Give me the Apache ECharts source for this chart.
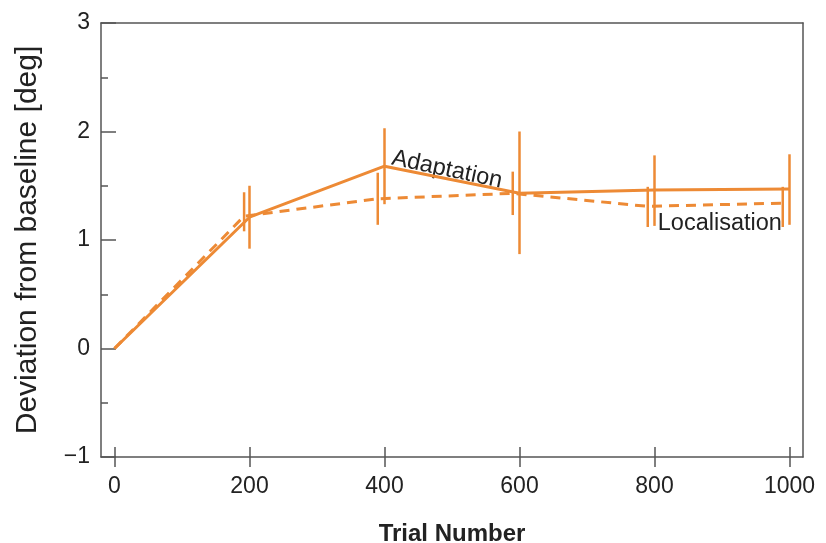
<!DOCTYPE html>
<html>
<head>
<meta charset="utf-8">
<script src="https://cdn.jsdelivr.net/npm/echarts@6/dist/echarts.min.js"></script>
<style>html,body{margin:0;padding:0;background:#fff;}#c{width:826px;height:543px;}</style>
</head>
<body>
<div id="c"></div>
<script>
// Data
var xTicks = [0, 200, 400, 600, 800, 1000];
var adaptX = [0, 200, 400, 600, 800, 1000];
var adaptY = [0, 1.21, 1.68, 1.43, 1.46, 1.47];
var adaptLo = [0, 0.92, 1.33, 0.87, 1.13, 1.14];
var adaptHi = [0, 1.50, 2.03, 2.00, 1.78, 1.79];
var locX = [0, 192, 390, 590, 790, 990];
var locY = [0, 1.22, 1.38, 1.43, 1.31, 1.34];
var locLo = [0, 1.08, 1.14, 1.23, 1.12, 1.12];
var locHi = [0, 1.44, 1.62, 1.63, 1.49, 1.49];
var labels = ['Adaptation', 'Localisation'];

var ORANGE = '#ED8A35';
var AX = '#555';
var FONT = '"Liberation Sans", Arial, Helvetica, sans-serif';

function pairs(xs, ys) { return xs.map(function (x, i) { return [x, ys[i]]; }); }
function errData(xs, lo, hi) { return xs.map(function (x, i) { return [x, lo[i], hi[i]]; }).filter(function (d) { return d[2] > d[1]; }); }

function errRender(params, api) {
  var p1 = api.coord([api.value(0), api.value(1)]);
  var p2 = api.coord([api.value(0), api.value(2)]);
  return { type: 'line', shape: { x1: p1[0], y1: p1[1], x2: p2[0], y2: p2[1] }, style: { stroke: ORANGE, lineWidth: 2.5 } };
}

var chart = echarts.init(document.getElementById('c'), null, { renderer: 'canvas' });
var xBase = { type: 'value', min: -20, max: 1020, splitLine: { show: false } };
chart.setOption({
  animation: false,
  grid: { left: 101, right: 23, top: 23, bottom: 86, containLabel: false, outerBoundsMode: 'none' },
  xAxis: [
    Object.assign({}, xBase, {
      position: 'bottom',
      name: 'Trial Number', nameLocation: 'middle', nameGap: 65,
      nameTextStyle: { fontFamily: FONT, fontSize: 24, fontWeight: 'bold', color: '#222' },
      axisLine: { show: true, onZero: false, lineStyle: { color: AX, width: 1.5 } },
      axisTick: { show: true, inside: true, length: 10, customValues: xTicks, lineStyle: { color: AX, width: 1.5 } },
      axisLabel: { customValues: xTicks, fontFamily: FONT, fontSize: 23, color: '#222', margin: 18,
        formatter: function (v) { return String(v); } }
    }),
    Object.assign({}, xBase, {
      position: 'bottom',
      axisLine: { show: false, onZero: false },
      axisTick: { show: true, inside: false, length: 10, customValues: xTicks, lineStyle: { color: AX, width: 1.5 } },
      axisLabel: { show: false }
    }),
    Object.assign({}, xBase, {
      position: 'top',
      axisLine: { show: true, onZero: false, lineStyle: { color: AX, width: 1.5 } },
      axisTick: { show: false }, axisLabel: { show: false }
    })
  ],
  yAxis: [
    {
      type: 'value', min: -1, max: 3, interval: 1, position: 'left',
      name: 'Deviation from baseline [deg]', nameLocation: 'middle', nameRotate: 90, nameGap: 58,
      nameTextStyle: { fontFamily: FONT, fontSize: 30, color: '#222' },
      splitLine: { show: false },
      axisLine: { show: true, onZero: false, lineStyle: { color: AX, width: 1.5 } },
      axisTick: { show: true, inside: true, length: 15, lineStyle: { color: AX, width: 1.5 } },
      minorTick: { show: true, splitNumber: 2, length: 7, lineStyle: { color: AX, width: 1.5 } },
      axisLabel: { fontFamily: FONT, fontSize: 23, color: '#222', margin: 11,
        formatter: function (v) { return v < 0 ? '\u2212' + Math.abs(v) : String(v); } }
    },
    {
      type: 'value', min: -1, max: 3, position: 'right',
      splitLine: { show: false },
      axisLine: { show: true, onZero: false, lineStyle: { color: AX, width: 1.5 } },
      axisTick: { show: false }, axisLabel: { show: false }
    }
  ],
  series: [
    { name: labels[1], type: 'line', data: pairs(locX, locY), symbol: 'none',
      lineStyle: { color: ORANGE, width: 3, type: [10, 7] }, z: 3 },
    { name: labels[0], type: 'line', data: pairs(adaptX, adaptY), symbol: 'none',
      lineStyle: { color: ORANGE, width: 3, type: 'solid' }, z: 4 },
    { type: 'custom', data: errData(locX, locLo, locHi), renderItem: errRender, z: 5 },
    { type: 'custom', data: errData(adaptX, adaptLo, adaptHi), renderItem: errRender, z: 5 }
  ]
});

// Series name labels placed via data coordinates
var pA = chart.convertToPixel({ xAxisIndex: 0, yAxisIndex: 0 }, [adaptX[2], adaptY[2]]);
var pL = chart.convertToPixel({ xAxisIndex: 0, yAxisIndex: 0 }, [locX[4], locY[4]]);
chart.setOption({
  graphic: [
    { type: 'text', x: pA[0] + 10, y: pA[1] - 20, rotation: -0.21,
      style: { text: labels[0], font: '23.5px ' + FONT, fill: '#222', textVerticalAlign: 'top' } },
    { type: 'text', x: pL[0] + 10, y: pL[1] + 5,
      style: { text: labels[1], font: '23.5px ' + FONT, fill: '#222', textVerticalAlign: 'top' } }
  ]
});
</script>
</body>
</html>
